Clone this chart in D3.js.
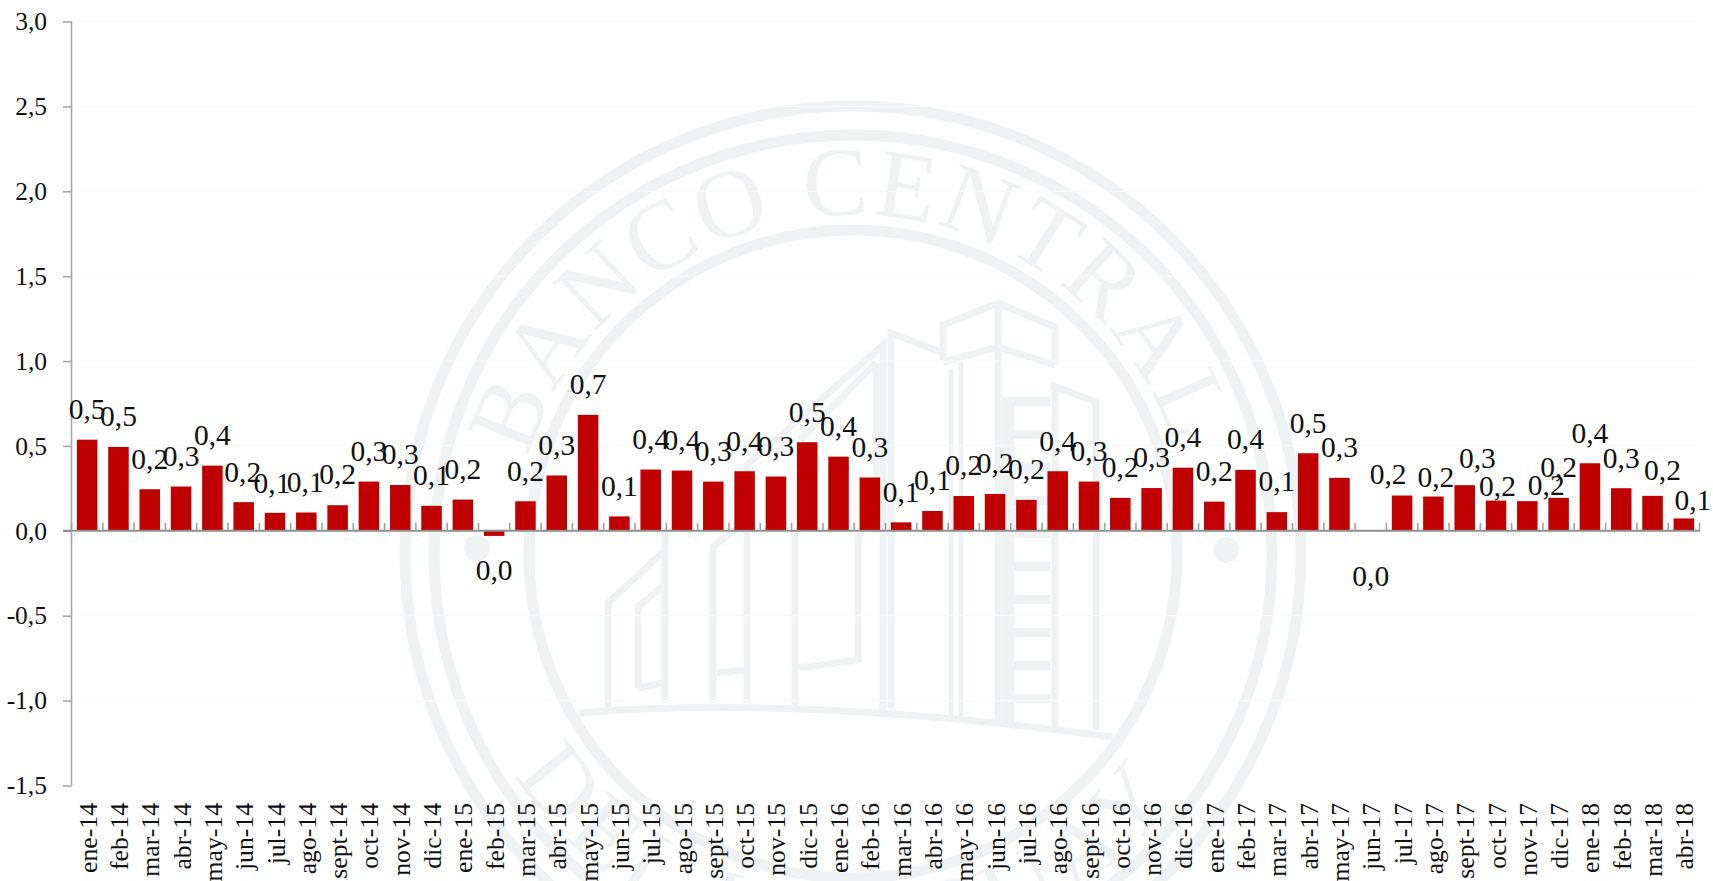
<!DOCTYPE html>
<html lang="es">
<head>
<meta charset="utf-8">
<script src="https://cdn.jsdelivr.net/npm/d3@7"></script>
<style>
html,body{margin:0;padding:0;background:#fff;overflow:hidden}
svg{display:block}
text{font-family:"Liberation Serif",serif;fill:#111}
</style>
</head>
<body>
<div id="chart"></div>
<script>
const categories = ["ene-14","feb-14","mar-14","abr-14","may-14","jun-14","jul-14","ago-14","sept-14","oct-14","nov-14","dic-14",
"ene-15","feb-15","mar-15","abr-15","may-15","jun-15","jul-15","ago-15","sept-15","oct-15","nov-15","dic-15",
"ene-16","feb-16","mar-16","abr-16","may-16","jun-16","jul-16","ago-16","sept-16","oct-16","nov-16","dic-16",
"ene-17","feb-17","mar-17","abr-17","may-17","jun-17","jul-17","ago-17","sept-17","oct-17","nov-17","dic-17",
"ene-18","feb-18","mar-18","abr-18"];
const values = [0.537,0.494,0.245,0.261,0.384,0.169,0.106,0.108,0.151,0.29,0.27,0.147,
0.184,-0.03,0.174,0.326,0.683,0.085,0.361,0.355,0.29,0.351,0.32,0.522,
0.437,0.314,0.05,0.117,0.205,0.217,0.182,0.351,0.29,0.194,0.252,0.372,
0.172,0.359,0.11,0.457,0.312,0,0.208,0.202,0.269,0.178,0.175,0.194,
0.398,0.251,0.206,0.073];
const yTicks = [-1.5,-1,-0.5,0,0.5,1,1.5,2,2.5,3];
const sealTop = "BANCO CENTRAL";
const sealBottom = "DEL URUGUAY";

const W = 1713, H = 881;
const comma = d => d3.format(".1f")(d).replace(".", ",").replace("\u2212", "-");
const svg = d3.select("#chart").append("svg").attr("width", W).attr("height", H);

/* watermark */
const seal = svg.append("g").attr("fill","none").attr("stroke","#eef2f3");
const cx = 853, cy = 554;
[[448,11],[419,11],[324,11]].forEach(([r,w]) =>
  seal.append("circle").attr("cx",cx).attr("cy",cy).attr("r",r).attr("stroke-width",w));
[[477,548],[1226,550]].forEach(([x,y]) =>
  seal.append("circle").attr("cx",x).attr("cy",y).attr("r",13).attr("fill","#eef2f3").attr("stroke","none"));
const defs = svg.append("defs");
const arcTop = d3.path(); arcTop.arc(cx,cy,339,-Math.PI/2-2.6,-Math.PI/2+2.6);
defs.append("path").attr("id","sealTopPath").attr("d",arcTop.toString());
const arcBot = d3.path(); arcBot.arc(cx,cy,404,Math.PI/2+2.6,Math.PI/2-2.6,true);
defs.append("path").attr("id","sealBotPath").attr("d",arcBot.toString());
const sealText = svg.append("g").style("font-size","98px");
sealText.append("text").attr("text-anchor","middle").style("fill","#eef2f3").style("letter-spacing","3px")
  .append("textPath").attr("href","#sealTopPath").attr("startOffset","49.7%").text(sealTop);
sealText.append("text").attr("text-anchor","middle").style("fill","#eef2f3").style("letter-spacing","8px")
  .append("textPath").attr("href","#sealBotPath").attr("startOffset","49.5%").text(sealBottom);
const building = [
 "M579 713Q800 695 1113 737",
 "M608 707V603L663 552",
 "M638 688V607L663 586M638 688L663 683",
 "M665 703V530",
 "M713 703V547L750 518M717 673L744 670",
 "M747 703V465L883 345V710",
 "M876 363L800 440M795 706V530M858 533V660L799 668M876 363V533",
 "M891 708V333L943 353",
 "M943 360V325L998 303L1055 327V365",
 "M943 362L998 347L1055 365M998 303V722",
 "M1051 385L1096 402V730",
 "M1055 385V727"
];
seal.append("g").attr("stroke-width",7).attr("stroke-linejoin","miter")
  .selectAll("path").data(building).join("path").attr("d",d=>d);
seal.append("path").attr("d","M951 370V722M961 362V722").attr("stroke-width",5);
seal.append("path").attr("d","M1008 397V723").attr("stroke-width",13);
seal.append("path").attr("d","M1030 397V723").attr("stroke-width",41).attr("stroke-dasharray","9 24");

/* scales */
const x = d3.scaleBand().domain(categories).range([71.5,1699.5]).paddingInner(0.345).paddingOuter(0.1725);
const y = d3.scaleLinear().domain([-1.5,3]).range([785.5,21.5]);

/* faint grid */
svg.append("g").selectAll("line").data(yTicks.slice(1)).join("line")
  .attr("x1",71.5).attr("x2",1699.5).attr("y1",d=>y(d)).attr("y2",d=>y(d))
  .attr("stroke","#fafafa").attr("stroke-width",1);

/* bars */
svg.append("g").selectAll("rect").data(values).join("rect")
  .attr("x",(d,i)=>x(categories[i]))
  .attr("width",x.bandwidth())
  .attr("y",d=>y(Math.max(d,0)))
  .attr("height",d=>Math.abs(y(d)-y(0)))
  .attr("fill","#c00000");

/* y axis */
const gy = svg.append("g").attr("transform","translate(71.5,0)")
  .call(d3.axisLeft(y).tickValues(yTicks).tickFormat(comma).tickSize(8.5).tickPadding(16));
gy.selectAll("path,line").attr("stroke","#a6a6a6").attr("stroke-width",1.6);
gy.select("path").attr("d",`M0 ${y(3)}V${y(-1.5)}`);
gy.selectAll("text").style("font-size","25.5px").attr("fill","#111");

/* x axis line and ticks */
const step = x.step();
const bounds = d3.range(categories.length+1).map(i=>71.5+i*step);
const gx = svg.append("g");
gx.append("line").attr("x1",63).attr("x2",1700).attr("y1",y(0)).attr("y2",y(0)).attr("stroke","#8e8e8e").attr("stroke-width",2);
gx.selectAll(".t").data(bounds).join("line").attr("class","t")
  .attr("x1",d=>d).attr("x2",d=>d).attr("y1",y(0)).attr("y2",y(0)-8)
  .attr("stroke","#a0a0a0").attr("stroke-width",1.6);

/* category labels */
const gc = svg.append("g").attr("transform","translate(0,803)")
  .call(d3.axisBottom(x).tickSize(0).tickPadding(0));
gc.select("path").remove();
gc.selectAll("text").attr("transform","rotate(-90)").attr("x",0).attr("y",0).attr("dy","0.37em")
  .attr("text-anchor","end").style("font-size","25.7px").attr("fill","#111");

/* value labels: most sit just above the bar; these were moved by hand in the original */
const labelNudges = {
  "jul-14":[-3,0.5],"ago-14":[-1,0.5],"jun-14":[-1,0.5],
  "feb-15":[0,69.5],
  "jun-17":[0,75.5],
  "jul-17":[-14,9],"ago-17":[2.5,11],"sept-17":[12.7,3.7],"oct-17":[1.5,15.7],"nov-17":[19,15],
  "mar-18":[10,4.7],"abr-18":[9,12.7]
};
svg.append("g").selectAll("text").data(values).join("text")
  .attr("x",(d,i)=>x(categories[i])+x.bandwidth()/2+(labelNudges[categories[i]]||[0,0])[0])
  .attr("y",(d,i)=>y(Math.max(d,0))-20.7+(labelNudges[categories[i]]||[0,0])[1])
  .attr("text-anchor","middle").style("font-size","29.5px")
  .text(comma);
</script>
</body>
</html>
